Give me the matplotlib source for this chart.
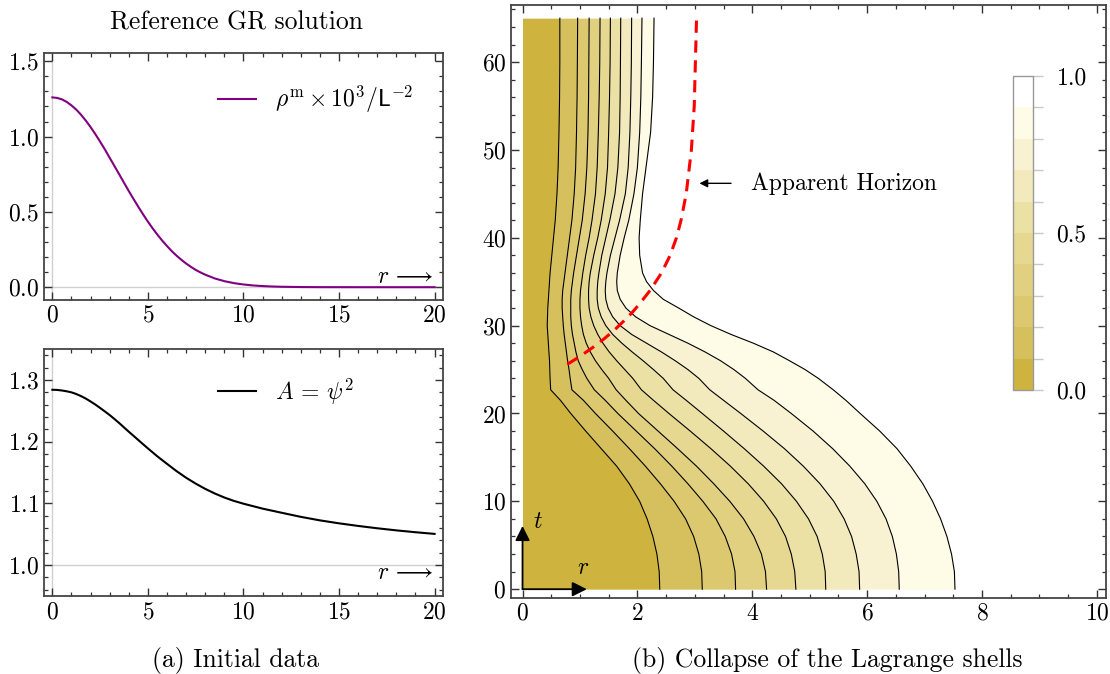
import numpy as np
import matplotlib
matplotlib.use("Agg")
import matplotlib.pyplot as plt
from matplotlib.ticker import MultipleLocator
from matplotlib.colors import ListedColormap, BoundaryNorm
import matplotlib.cm as cm

plt.rcParams['font.family'] = 'cmr10'
plt.rcParams['mathtext.fontset'] = 'cm'
plt.rcParams['axes.formatter.use_mathtext'] = True
plt.rcParams['axes.unicode_minus'] = False

# ---------------- data: initial data ----------------
r_rho = [0, 0.25, 0.5, 0.75, 1, 1.25, 1.5, 1.75, 2, 2.25, 2.5, 2.75, 3, 3.25,
         3.5, 3.75, 4, 4.25, 4.5, 4.75, 5, 5.25, 5.5, 5.75, 6, 6.25, 6.5, 6.75,
         7, 7.25, 7.5, 7.75, 8, 8.5, 9, 9.5, 10, 10.5, 11, 11.5, 12, 13, 14, 15,
         16, 18, 20]
rho_m = [1.260, 1.2567, 1.247, 1.2302, 1.207, 1.179, 1.145, 1.106, 1.063, 1.016,
         0.966, 0.914, 0.859, 0.804, 0.749, 0.693, 0.638, 0.585, 0.533, 0.483,
         0.435, 0.390, 0.348, 0.309, 0.273, 0.239, 0.209, 0.182, 0.157, 0.135,
         0.115, 0.098, 0.083, 0.058, 0.040, 0.027, 0.018, 0.0116, 0.0074, 0.0046,
         0.0028, 0.001, 0.0003, 0.0001, 0.0, 0.0, 0.0]

r_A = [0, 0.25, 0.5, 0.75, 1, 1.25, 1.5, 1.75, 2, 2.25, 2.5, 2.75, 3, 3.25, 3.5,
       3.75, 4, 4.25, 4.5, 4.75, 5, 5.25, 5.5, 5.75, 6, 6.5, 7, 7.5, 8, 8.5, 9,
       9.5, 10, 11, 12, 13, 14, 15, 16, 17, 18, 19, 20]
A_val = [1.2840, 1.2837, 1.2828, 1.2815, 1.2798, 1.2771, 1.2737, 1.2697, 1.2650,
         1.2600, 1.2545, 1.2488, 1.2430, 1.2366, 1.2300, 1.2230, 1.2160, 1.2093,
         1.2025, 1.1957, 1.1890, 1.1825, 1.1760, 1.1700, 1.1640, 1.1522, 1.1415,
         1.1320, 1.1235, 1.1160, 1.1095, 1.1040, 1.0995, 1.0915, 1.0848, 1.0782,
         1.0725, 1.0677, 1.0635, 1.0597, 1.0563, 1.0533, 1.0506]

# ---------------- data: Lagrange shells r_k(t) ----------------
t_shell = [0, 2, 4, 6, 8, 10, 12, 14, 16, 18, 20, 21.5, 22.7, 24, 25, 26, 27, 28,
           29, 30, 31, 32, 33, 34, 35, 36, 38, 40, 42, 45, 48, 52, 56, 60, 65]
shell_1 = [2.39, 2.38, 2.34, 2.27, 2.17, 2.04, 1.86, 1.64, 1.37, 1.10, 0.84, 0.66,
           0.49, 0.48, 0.475, 0.47, 0.46, 0.45, 0.44, 0.43, 0.435, 0.44, 0.45,
           0.46, 0.47, 0.48, 0.51, 0.54, 0.57, 0.60, 0.62, 0.635, 0.645, 0.65, 0.65]
shell_2 = [3.13, 3.12, 3.07, 2.98, 2.84, 2.64, 2.40, 2.14, 1.86, 1.57, 1.27, 1.06,
           0.86, 0.83, 0.81, 0.785, 0.765, 0.745, 0.725, 0.71, 0.70, 0.69, 0.69,
           0.70, 0.72, 0.74, 0.78, 0.82, 0.86, 0.90, 0.925, 0.94, 0.95, 0.955, 0.96]
shell_3 = [3.71, 3.70, 3.64, 3.53, 3.37, 3.14, 2.88, 2.60, 2.30, 1.98, 1.66, 1.44,
           1.25, 1.12, 1.04, 0.97, 0.93, 0.90, 0.87, 0.85, 0.84, 0.84, 0.84, 0.85,
           0.87, 0.89, 0.94, 0.99, 1.04, 1.09, 1.12, 1.14, 1.15, 1.155, 1.16]
shell_4 = [4.25, 4.23, 4.16, 4.03, 3.85, 3.61, 3.33, 3.03, 2.70, 2.36, 2.02, 1.80,
           1.63, 1.50, 1.38, 1.27, 1.18, 1.11, 1.06, 1.03, 1.01, 1.00, 1.00, 1.01,
           1.03, 1.05, 1.10, 1.16, 1.21, 1.27, 1.30, 1.32, 1.335, 1.345, 1.35]
shell_5 = [4.76, 4.74, 4.68, 4.58, 4.42, 4.20, 3.93, 3.62, 3.28, 2.92, 2.55, 2.28,
           2.07, 1.92, 1.78, 1.64, 1.51, 1.40, 1.31, 1.24, 1.19, 1.16, 1.15, 1.15,
           1.16, 1.18, 1.24, 1.31, 1.37, 1.44, 1.48, 1.50, 1.515, 1.525, 1.53]
shell_6 = [5.28, 5.27, 5.22, 5.13, 4.98, 4.77, 4.51, 4.20, 3.86, 3.50, 3.13, 2.85,
           2.62, 2.45, 2.28, 2.10, 1.91, 1.73, 1.57, 1.45, 1.37, 1.32, 1.30, 1.30,
           1.31, 1.33, 1.38, 1.45, 1.52, 1.61, 1.66, 1.69, 1.70, 1.705, 1.71]
shell_7 = [5.87, 5.86, 5.81, 5.73, 5.60, 5.42, 5.18, 4.89, 4.56, 4.19, 3.80, 3.50,
           3.26, 3.07, 2.88, 2.66, 2.42, 2.16, 1.90, 1.70, 1.57, 1.49, 1.45, 1.44,
           1.45, 1.47, 1.53, 1.61, 1.69, 1.79, 1.84, 1.87, 1.885, 1.895, 1.90]
shell_8 = [6.56, 6.55, 6.51, 6.44, 6.33, 6.17, 5.96, 5.70, 5.40, 5.06, 4.68, 4.38,
           4.10, 3.88, 3.68, 3.45, 3.18, 2.88, 2.55, 2.22, 1.97, 1.80, 1.70, 1.65,
           1.64, 1.65, 1.70, 1.77, 1.85, 1.94, 2.00, 2.04, 2.06, 2.07, 2.08]
shell_9 = [7.53, 7.52, 7.47, 7.39, 7.28, 7.14, 6.97, 6.76, 6.52, 6.22, 5.88, 5.63,
           5.41, 5.15, 4.92, 4.65, 4.37, 4.02, 3.63, 3.28, 2.98, 2.72, 2.45, 2.28,
           2.16, 2.09, 2.04, 2.03, 2.05, 2.09, 2.15, 2.23, 2.265, 2.28, 2.29]
shells = [shell_1, shell_2, shell_3, shell_4, shell_5, shell_6, shell_7, shell_8, shell_9]
mass_levels = [0.0, 0.1, 0.2, 0.3, 0.4, 0.5, 0.6, 0.7, 0.8, 0.9, 1.0]

# apparent horizon
t_ah = [25.6, 26.5, 27.5, 28.5, 29.5, 30.5, 31.5, 32.5, 34, 36, 38, 40, 42, 45,
        50, 55, 60, 65]
r_ah = [0.78, 1.00, 1.22, 1.42, 1.60, 1.76, 1.91, 2.04, 2.22, 2.42, 2.57, 2.68,
        2.76, 2.85, 2.94, 2.99, 3.01, 3.03]

band_colors = ['#CEB43F', '#D6C05E', '#DBC86F', '#E0D07F', '#E6D890', '#ECE1A5',
               '#F2EABC', '#F8F2D3', '#FEFCE6', '#FFFFFF']

# ---------------- figure ----------------
fig = plt.figure(figsize=(11.1, 6.74), dpi=100)
ax1 = fig.add_axes([0.0396, 0.5549, 0.3595, 0.3665])
ax2 = fig.add_axes([0.0396, 0.1157, 0.3595, 0.3665])
ax3 = fig.add_axes([0.4604, 0.1128, 0.5360, 0.8798])
cax = fig.add_axes([0.9126, 0.4214, 0.018, 0.466])

FS = 17
FS_LEG = 17
FS_CAP = 18.5

def style(ax, xmaj, xmin, ymaj, ymin):
    ax.xaxis.set_major_locator(MultipleLocator(xmaj))
    ax.xaxis.set_minor_locator(MultipleLocator(xmin))
    ax.yaxis.set_major_locator(MultipleLocator(ymaj))
    ax.yaxis.set_minor_locator(MultipleLocator(ymin))
    ax.tick_params(which='both', direction='in', top=True, right=True,
                   labelsize=FS, color='#333333')
    ax.tick_params(which='major', length=6, width=1.0)
    ax.tick_params(which='minor', length=3, width=0.9)
    for s in ax.spines.values():
        s.set_color('#444444')
        s.set_linewidth(1.3)

# top-left
ax1.axvline(0, color='#d0d0d0', lw=1.0, zorder=0)
ax1.axhline(0, color='#d0d0d0', lw=1.0, zorder=0)
ax1.plot(r_rho, rho_m, color='#800080', lw=1.5,
         label=r'$\rho^{\rm m}\times10^3/\mathsf{L}^{-2}$')
ax1.set_xlim(-0.44, 20.44)
ax1.set_ylim(-0.085, 1.555)
style(ax1, 5, 1, 0.5, 0.1)
ax1.legend(loc='upper left', frameon=False, fontsize=FS_LEG, handlelength=1.6,
           bbox_to_anchor=(0.383, 0.96))
ax1.text(0.975, 0.05, r'$r\,\longrightarrow$', transform=ax1.transAxes,
         ha='right', va='bottom', fontsize=FS_LEG)
fig.text(236.5 / 1110, 1 - 23 / 674, 'Reference GR solution', fontsize=FS_CAP,
         ha='center', va='center')

# bottom-left
ax2.axvline(0, color='#d0d0d0', lw=1.0, zorder=0)
ax2.axhline(1.0, color='#d0d0d0', lw=1.0, zorder=0)
ax2.plot(r_A, A_val, color='black', lw=1.5, label=r'$A\,=\,\psi^2$')
ax2.set_xlim(-0.44, 20.44)
ax2.set_ylim(0.95, 1.35)
style(ax2, 5, 1, 0.1, 0.02)
ax2.legend(loc='upper left', frameon=False, fontsize=FS_LEG, handlelength=1.6,
           bbox_to_anchor=(0.383, 0.975))
ax2.text(0.975, 0.05, r'$r\,\longrightarrow$', transform=ax2.transAxes,
         ha='right', va='bottom', fontsize=FS_LEG)

# right: Lagrange shells
t_arr = np.array(t_shell)
prev = np.zeros_like(t_arr)
for k, sh in enumerate(shells):
    cur = np.array(sh)
    ax3.fill_betweenx(t_arr, prev, cur, color=band_colors[k], lw=0, zorder=1)
    prev = cur
for sh in shells:
    ax3.plot(sh, t_shell, color='black', lw=0.8, zorder=2)
ax3.plot(r_ah, t_ah, color='red', lw=2.2, ls=(0, (4, 2.5)), zorder=3)
ax3.annotate('Apparent Horizon', xy=(3.08, 46.2), xytext=(3.97, 46.2),
             fontsize=FS, va='center', ha='left',
             arrowprops=dict(arrowstyle='-|>', color='black', lw=1.0,
                             shrinkA=12, shrinkB=0, mutation_scale=12))
ax3.annotate('', xy=(1.12, 0), xytext=(0, 0),
             arrowprops=dict(arrowstyle='-|>', color='black', lw=1.3,
                             shrinkA=0, shrinkB=0, mutation_scale=22), zorder=4)
ax3.annotate('', xy=(0, 7.2), xytext=(0, 0),
             arrowprops=dict(arrowstyle='-|>', color='black', lw=1.3,
                             shrinkA=0, shrinkB=0, mutation_scale=22), zorder=4)
ax3.text(0.26, 7.7, r'$t$', fontsize=FS_LEG, ha='center', va='center', zorder=5)
ax3.text(1.06, 2.4, r'$r$', fontsize=FS_LEG, ha='center', va='center', zorder=5)
ax3.set_xlim(-0.2, 10.16)
ax3.set_ylim(-1.0, 66.5)
style(ax3, 2, 0.5, 10, 2)

# colorbar
cmap = ListedColormap(band_colors)
norm = BoundaryNorm(mass_levels, cmap.N)
sm = cm.ScalarMappable(norm=norm, cmap=cmap)
cb = fig.colorbar(sm, cax=cax, ticks=[0.0, 0.5, 1.0])
cb.ax.set_yticklabels(['0.0', '0.5', '1.0'])
cb.ax.yaxis.set_minor_locator(MultipleLocator(0.1))
cb.ax.tick_params(which='both', direction='out', color='#c8c8c8', length=7,
                  width=1.0, labelsize=FS, pad=10)
cb.outline.set_edgecolor('#999999')
cb.outline.set_linewidth(1.0)

# captions
fig.text(236 / 1110, 1 - 660 / 674, '(a) Initial data', fontsize=FS_CAP,
         ha='center', va='center')
fig.text(827 / 1110, 1 - 660 / 674, '(b) Collapse of the Lagrange shells',
         fontsize=FS_CAP, ha='center', va='center')

fig.savefig('out.png', dpi=100)
